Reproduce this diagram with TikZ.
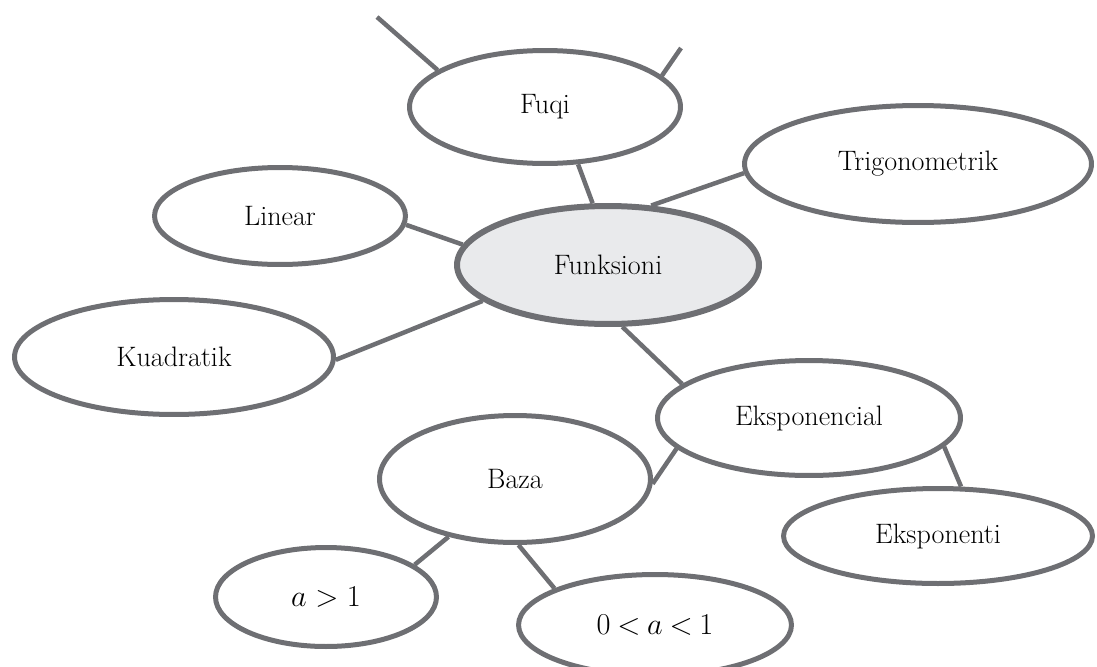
\documentclass[tikz,border=0pt]{standalone}
\usetikzlibrary{shapes.geometric}
\definecolor{rim}{RGB}{110,111,115}
\definecolor{hub}{RGB}{233,234,236}
\begin{document}
\begin{tikzpicture}[x=0.02cm,y=-0.02cm,
  bubble/.style={ellipse,draw=rim,line width=0.1cm,inner sep=0pt,
    font=\fontsize{16}{19}\selectfont},
  cond/.style={bubble,font=\fontsize{17}{20}\selectfont},
  link/.style={draw=rim,line width=0.09cm}]
  \clip (0,0) rectangle (1097,666);
  % centre
  \node[bubble,fill=hub,line width=0.12cm,minimum width=6.04cm,minimum height=2.36cm] (funk) at (608,265) {Funksioni};
  % kinds of functions
  \node[bubble,minimum width=5.42cm,minimum height=2.26cm] (fuqi) at (545,107) {Fuqi};
  \node[bubble,minimum width=6.94cm,minimum height=2.34cm] (trig) at (918,164) {Trigonometrik};
  \node[bubble,minimum width=5.02cm,minimum height=1.94cm] (lin) at (280,216) {Linear};
  \node[bubble,minimum width=6.38cm,minimum height=2.30cm] (kuad) at (174,357) {Kuadratik};
  \node[bubble,minimum width=6.06cm,minimum height=2.30cm] (eksp) at (809,418) {Eksponencial};
  % parts of the exponential
  \node[bubble,minimum width=5.42cm,minimum height=2.54cm] (baza) at (515,479) {Baza};
  \node[bubble,minimum width=6.18cm,minimum height=1.90cm] (ekspt) at (938,536) {Eksponenti};
  \node[cond,minimum width=4.42cm,minimum height=1.98cm] (big) at (326,597) {$a>1$};
  \node[cond,minimum width=5.46cm,minimum height=2.02cm] (small) at (655,625) {$0\mskip4mu{<}\mskip4mu a\mskip4mu{<}\mskip4mu 1$};
  % loose ends above Fuqi
  \coordinate (tipa) at (377,17);
  \coordinate (tipb) at (681,48);

  \draw[link] (fuqi.161) -- (tipa);
  \draw[link] (fuqi.15) -- (tipb);
  \draw[link] (fuqi.-60) -- (funk.104);
  \draw[link] (trig.183) -- (funk.54);
  \draw[link] (lin.-4) -- (funk.172);
  \draw[link] (kuad.-1) -- (funk.196);
  \draw[link] (funk.-77) -- (eksp.165);
  \draw[link] (eksp.193) -- (baza.-2);
  \draw[link] (eksp.-12) -- (ekspt.65);
  \draw[link] (baza.221) -- (big.20);
  \draw[link] (baza.-87) -- (small.160);
\end{tikzpicture}
\end{document}
